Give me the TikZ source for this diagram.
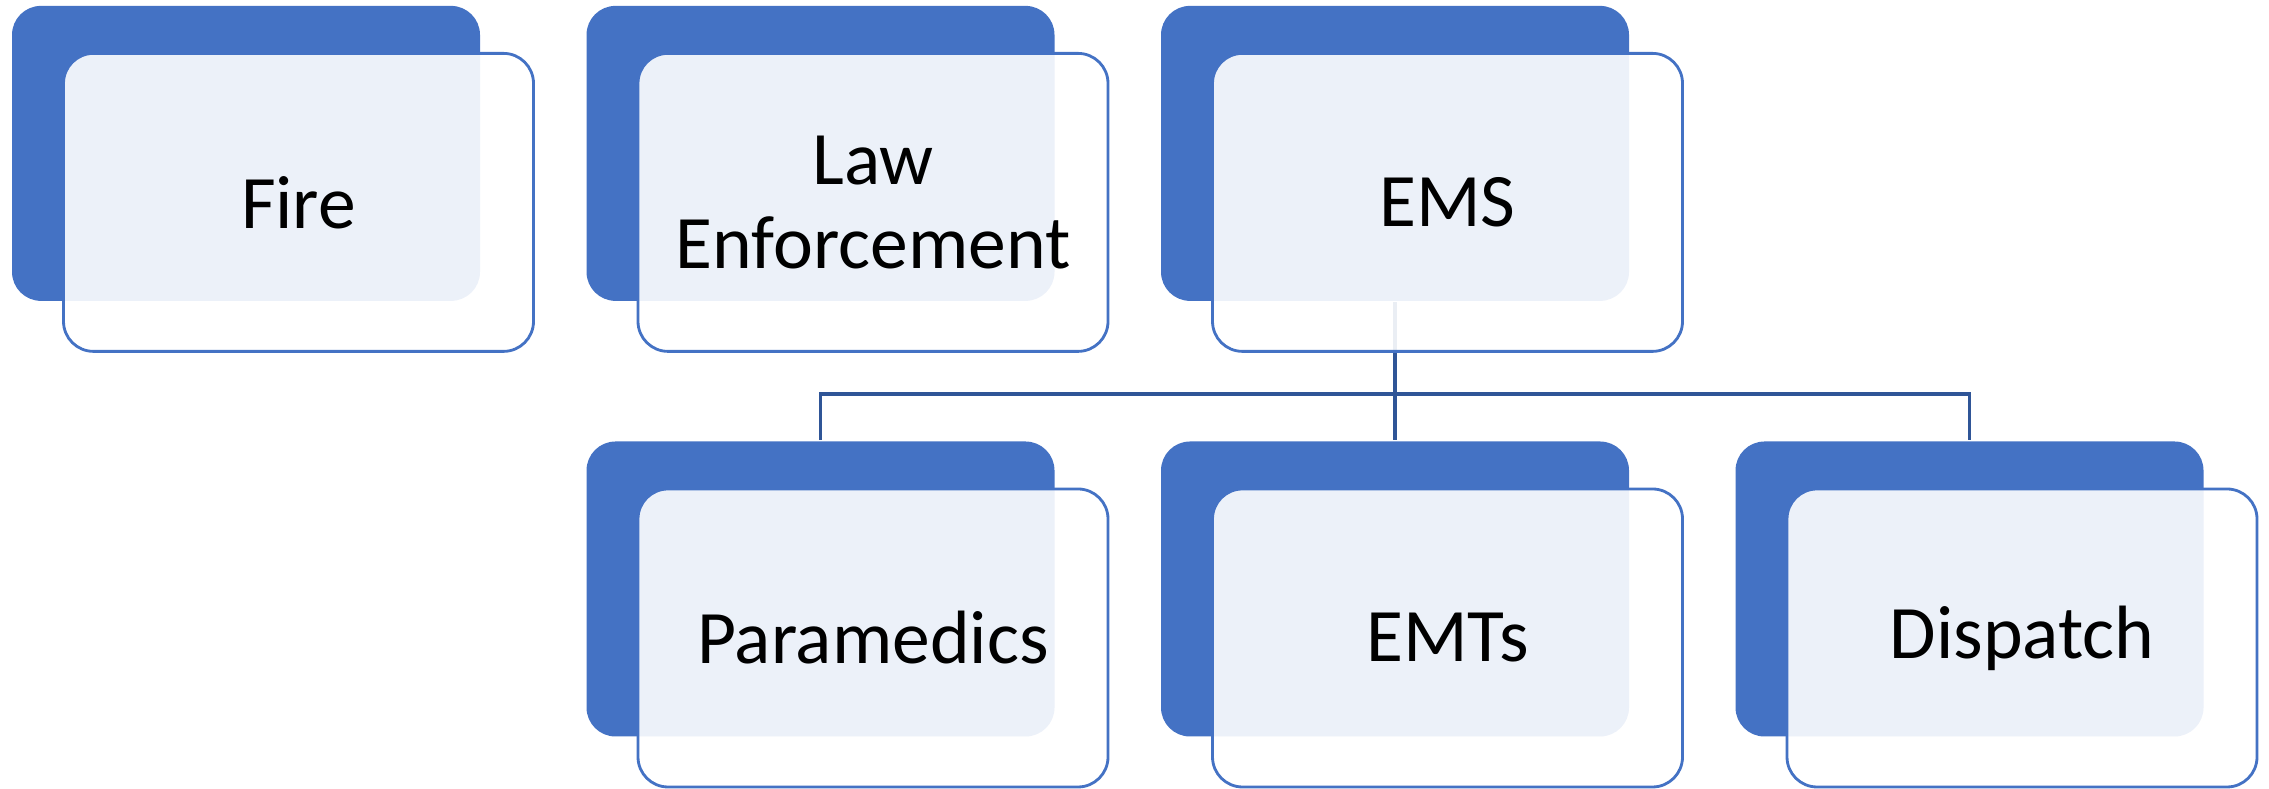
\documentclass[tikz,border=0pt]{standalone}
\usepackage{fontspec}
\setmainfont{Carlito}
\usetikzlibrary{positioning}
\definecolor{boxblue}{HTML}{4472C4}
\definecolor{linkblue}{HTML}{2F5597}

\begin{document}
\begin{tikzpicture}[line width=0.8pt,
 back/.style={rectangle,rounded corners=0.29cm,fill=boxblue,minimum width=4.68cm,minimum height=2.95cm,inner sep=0pt},
 front/.style={rectangle,rounded corners=0.3cm,draw=boxblue,fill=white,fill opacity=0.9,text opacity=1,minimum width=4.70cm,minimum height=2.98cm,inner sep=0pt,align=center,font=\fontsize{21.5}{24}\selectfont},
 link/.style={draw=linkblue,line width=1pt}]
\useasboundingbox (0,0) rectangle (22.69,7.89);
\foreach \n/\x/\y in {fire/2.46/6.356,law/8.205/6.356,ems/13.95/6.356,para/8.205/2.0,emt/13.95/2.0,disp/19.695/2.0}{\node[back] (b\n) at (\x,\y){};};
\draw[link] (bems.south) -- (bemt.north);
\draw[link] (bpara.north) -- ++(0,0.46) -| (bdisp.north);
\foreach \n/\t in {fire/Fire,law/{Law\\Enforcement},ems/EMS,para/Paramedics,emt/EMTs,disp/Dispatch}{\node[front,on grid,below right=0.49cm and 0.525cm of b\n] (\n) {\t};};
\end{tikzpicture}
\end{document}
